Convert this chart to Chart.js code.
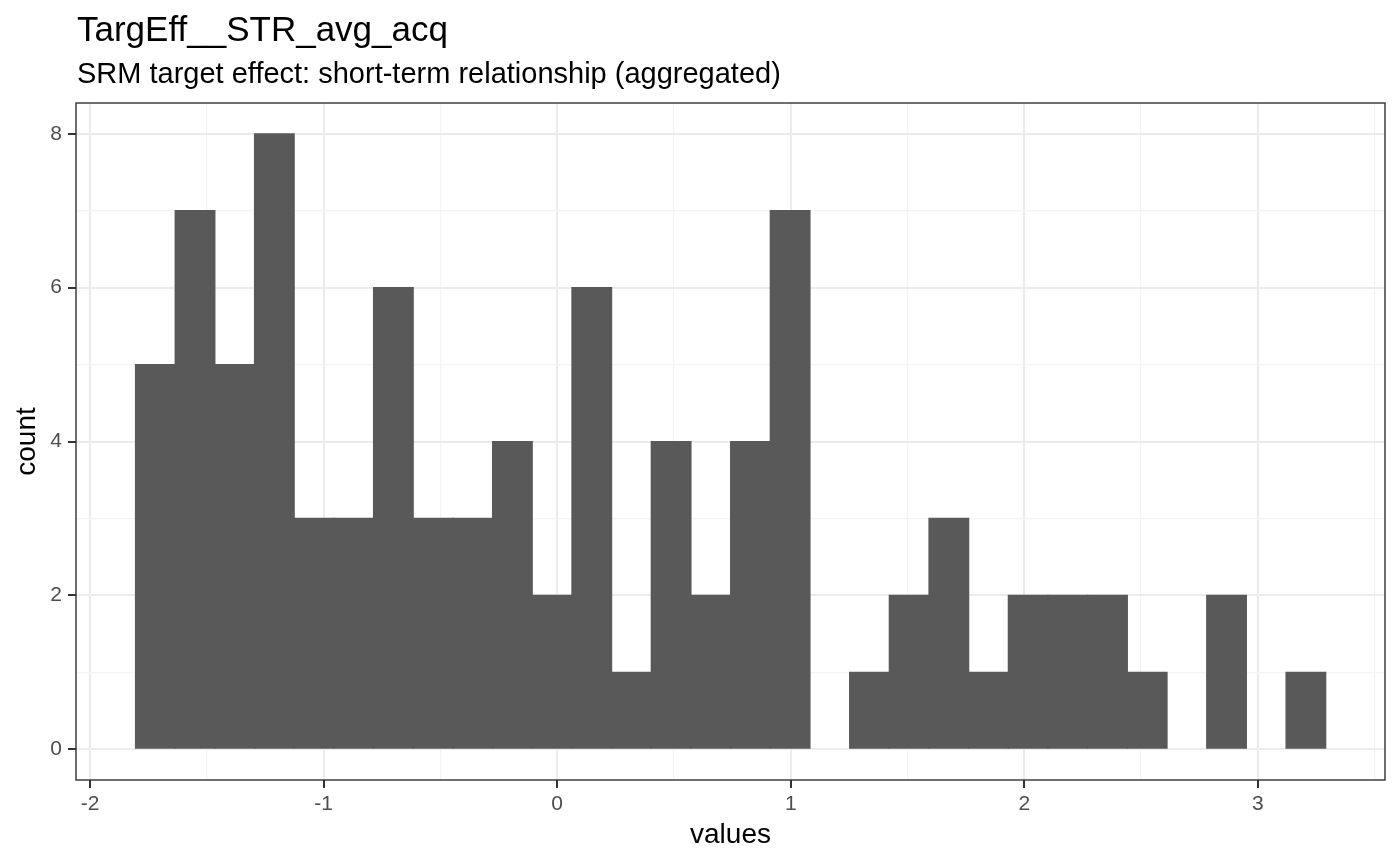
<!DOCTYPE html>
<html>
<head>
<meta charset="utf-8">
<script src="https://cdn.jsdelivr.net/npm/chart.js@4/dist/chart.umd.min.js"></script>
<style>
  html, body { margin: 0; padding: 0; background: #fff; }
  #wrap { width: 1400px; height: 865px; position: relative; }
</style>
</head>
<body>
<div id="wrap"><canvas id="histChart" width="1400" height="865"></canvas></div>
<script>
// histogram: 30 bins
const binStart = -1.8057;
const binWidth = 0.16988;
const counts = [5, 7, 5, 8, 3, 3, 6, 3, 3, 4, 2, 6, 1, 4, 2, 4, 7, 0, 1, 2, 3, 1, 2, 2, 2, 1, 0, 2, 0, 1];
const xTicks = [-2, -1, 0, 1, 2, 3];
const yTicks = [0, 2, 4, 6, 8];

const titleText = 'TargEff__STR_avg_acq';
const subtitleText = 'SRM target effect: short-term relationship (aggregated)';

const FONT = '"Liberation Sans", Arial, Helvetica, sans-serif';

const points = counts.map((c, i) => ({ x: binStart + binWidth * (i + 0.5), y: c }));

// titles + panel border
const decor = {
  id: 'decor',
  afterDraw(chart) {
    const ctx = chart.ctx;
    const a = chart.chartArea;
    ctx.save();
    ctx.strokeStyle = '#333333';
    ctx.lineWidth = 1.4;
    ctx.strokeRect(a.left, a.top, a.right - a.left, a.bottom - a.top);
    ctx.fillStyle = '#000';
    ctx.textBaseline = 'alphabetic';
    ctx.textAlign = 'left';
    ctx.font = '35px ' + FONT;
    ctx.fillText(titleText, 77, 41);
    ctx.font = '29px ' + FONT;
    ctx.fillText(subtitleText, 77, 83);
    ctx.restore();
  }
};

const isMajor = (v, list) => list.some(t => Math.abs(t - v) < 1e-9);
const major = (c, list) => !!(c.tick && isMajor(c.tick.value, list));

new Chart(document.getElementById('histChart'), {
  type: 'bar',
  data: {
    datasets: [{
      data: points,
      backgroundColor: c => (c.raw && c.raw.y === 0) ? 'rgba(0,0,0,0)' : '#595959',
      borderWidth: 0,
      inflateAmount: 0.6,
      barPercentage: 1,
      categoryPercentage: 1
    }]
  },
  options: {
    responsive: false,
    animation: false,
    layout: { padding: { top: 103, right: 15, left: 0, bottom: 0 } },
    plugins: { legend: { display: false }, tooltip: { enabled: false } },
    scales: {
      x: {
        type: 'linear',
        offset: false,
        min: -2.0605,
        max: 3.5445,
        afterBuildTicks: s => {
          const t = [];
          for (let v = -2; v <= 3.5; v += 0.5) t.push({ value: v });
          s.ticks = t;
        },
        afterFit: s => { s.height = 85; },
        border: { display: false },
        grid: {
          offset: false,
          color: c => major(c, xTicks) ? '#ebebeb' : '#f4f4f4',
          lineWidth: c => major(c, xTicks) ? 2 : 1.2,
          tickColor: c => major(c, xTicks) ? '#333333' : 'rgba(0,0,0,0)',
          tickLength: 8,
          tickWidth: 2
        },
        ticks: {
          autoSkip: false,
          maxRotation: 0,
          padding: 4,
          color: '#4d4d4d',
          font: { family: FONT, size: 21 },
          callback: v => isMajor(v, xTicks) ? String(v) : ''
        },
        title: {
          display: true,
          text: 'values',
          color: '#000',
          font: { family: FONT, size: 28 },
          padding: { top: 0, bottom: 13 }
        }
      },
      y: {
        min: -0.4,
        max: 8.4,
        afterBuildTicks: s => {
          const t = [];
          for (let v = 0; v <= 8; v += 1) t.push({ value: v });
          s.ticks = t;
        },
        afterFit: s => { s.width = 76; },
        border: { display: false },
        grid: {
          color: c => major(c, yTicks) ? '#ebebeb' : '#f4f4f4',
          lineWidth: c => major(c, yTicks) ? 2 : 1.2,
          tickColor: c => major(c, yTicks) ? '#333333' : 'rgba(0,0,0,0)',
          tickLength: 8,
          tickWidth: 2
        },
        ticks: {
          autoSkip: false,
          padding: 6,
          color: '#4d4d4d',
          font: { family: FONT, size: 21 },
          callback: v => isMajor(v, yTicks) ? String(v) : ''
        },
        title: {
          display: true,
          text: 'count',
          color: '#000',
          font: { family: FONT, size: 28 },
          padding: { top: 10, bottom: 0 }
        }
      }
    }
  },
  plugins: [decor]
});
</script>
</body>
</html>
